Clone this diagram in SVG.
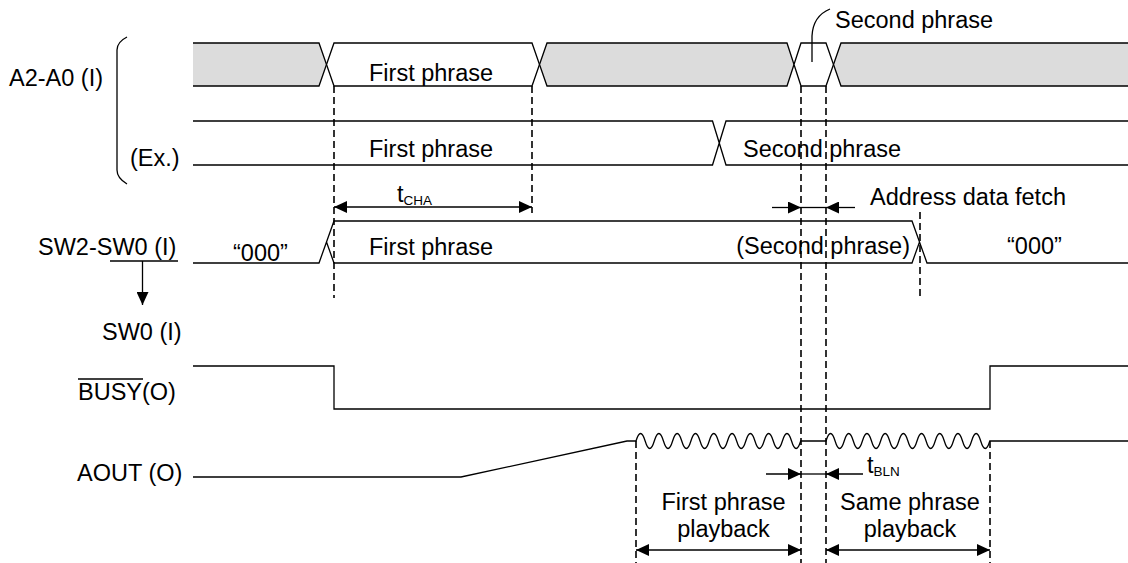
<svg xmlns="http://www.w3.org/2000/svg" width="1128" height="563" viewBox="0 0 1128 563">
<defs>
<style>
text{font-family:"Liberation Sans",Arial,sans-serif;font-size:23.5px;fill:#000}
.sub{font-size:13.5px}
.ln{fill:none;stroke:#000;stroke-width:1.3}
.g{fill:#dcdcdc;stroke:#000;stroke-width:1.3}
.w{fill:#fff;stroke:#000;stroke-width:1.3}
.d{fill:none;stroke:#000;stroke-width:1.6;stroke-dasharray:7 4}
.ar{fill:none;stroke:#000;stroke-width:1.3}
.mid{text-anchor:middle}
.end{text-anchor:end}
</style>
<marker id="ah" viewBox="0 0 13 12" refX="13" refY="6" markerWidth="13" markerHeight="12" markerUnits="userSpaceOnUse" orient="auto-start-reverse"><path d="M0,0 L13,6 L0,12 Z" fill="#000"/></marker>
</defs>
<rect width="1128" height="563" fill="#fff"/>

<g id="a2a0">
<path class="ln" d="M127,37 Q117,42 117,50 V170 Q117,178 127,184"/>
<text x="9" y="86">A2-A0 (I)</text>
<path class="g" d="M193,43 H319 L326.5,64.5 L319,86 H193"/>
<path class="w" d="M326.5,64.5 L334,43 H532 L539.5,64.5 L532,86 H334 Z"/>
<path class="g" d="M539.5,64.5 L547,43 H787 L794,64.5 L787,86 H547 Z"/>
<path class="w" d="M794,64.5 L801,43 H826 L833.5,64.5 L826,86 H801 Z"/>
<path class="g" d="M1128,43 H841 L833.5,64.5 L841,86 H1128"/>
<text x="369" y="81">First phrase</text>
<path class="ln" d="M812,62 V36 Q813,16 830,9"/>
<text x="835" y="28">Second phrase</text>
</g>

<g id="ex">
<text x="130" y="166">(Ex.)</text>
<path class="ln" d="M193,121 H712.5 L726,165 H1128 M193,165 H712.5 L726,121 H1128"/>
<text x="369" y="157">First phrase</text>
<text x="743" y="157">Second phrase</text>
</g>

<g id="sw">
<text x="38" y="255">SW2-SW0 (I)</text>
<path class="ln" d="M193,263 H319 L334,221 H912 L927,263 H1128 M326.5,242 L334,263 H912 L919.5,242"/>
<text x="233" y="261">“000”</text>
<text x="369" y="255">First phrase</text>
<text class="end" x="910" y="254">(Second phrase)</text>
<text x="1007" y="254">“000”</text>
</g>

<g id="sw0">
<text x="102" y="340">SW0 (I)</text>
</g>

<g id="busy">
<text x="78" y="400">BUSY(O)</text>
<line class="ln" x1="78" y1="379" x2="143" y2="379"/>
<path class="ln" d="M193,366 H334 V409 H990 V366 H1128"/>
</g>

<g id="aout">
<text x="77" y="481">AOUT (O)</text>
<path class="ln" d="M193,477 H461 L627,441 H636 q4.575,-15 9.15,0 t9.15,0 t9.15,0 t9.15,0 t9.15,0 t9.15,0 t9.15,0 t9.15,0 t9.15,0 t9.15,0 t9.15,0 t9.15,0 t9.15,0 t9.15,0 t9.15,0 t9.15,0 t9.15,0 t9.15,0 H826 q4.55,-15 9.1,0 t9.1,0 t9.1,0 t9.1,0 t9.1,0 t9.1,0 t9.1,0 t9.1,0 t9.1,0 t9.1,0 t9.1,0 t9.1,0 t9.1,0 t9.1,0 t9.1,0 t9.1,0 t9.1,0 t9.1,0 H1128"/>
</g>

<g id="labels">
<text x="397" y="202">t<tspan class="sub" dy="3">CHA</tspan></text>
<text x="870" y="205">Address data fetch</text>
<text x="867" y="473">t<tspan class="sub" dy="3">BLN</tspan></text>
<text class="mid" x="723.5" y="510">First phrase</text>
<text class="mid" x="723.5" y="537">playback</text>
<text class="mid" x="910" y="510">Same phrase</text>
<text class="mid" x="910" y="537">playback</text>
</g>

<g id="connectors">
<line class="d" x1="334" y1="86" x2="334" y2="298"/>
<line class="d" x1="532" y1="86" x2="532" y2="213"/>
<line class="d" x1="801" y1="86" x2="801" y2="563"/>
<line class="d" x1="826" y1="86" x2="826" y2="563"/>
<line class="d" x1="920" y1="212" x2="920" y2="298"/>
<line class="d" x1="636" y1="441" x2="636" y2="563"/>
<line class="d" x1="990" y1="441" x2="990" y2="563"/>
<path class="ar" d="M334,207 H532" marker-start="url(#ah)" marker-end="url(#ah)"/>
<path class="ar" d="M772,207.5 H801" marker-end="url(#ah)"/>
<path class="ar" d="M801,207.5 H826"/>
<path class="ar" d="M855,207.5 H826" marker-end="url(#ah)"/>
<path class="ln" d="M110,261 H178"/>
<path class="ar" d="M142.5,261 V305" marker-end="url(#ah)"/>
<path class="ar" d="M766,474 H801" marker-end="url(#ah)"/>
<path class="ar" d="M801,474 H826"/>
<path class="ar" d="M863,474 H826" marker-end="url(#ah)"/>
<path class="ar" d="M636,550 H801" marker-start="url(#ah)" marker-end="url(#ah)"/>
<path class="ar" d="M826,550 H990" marker-start="url(#ah)" marker-end="url(#ah)"/>
</g>
</svg>
